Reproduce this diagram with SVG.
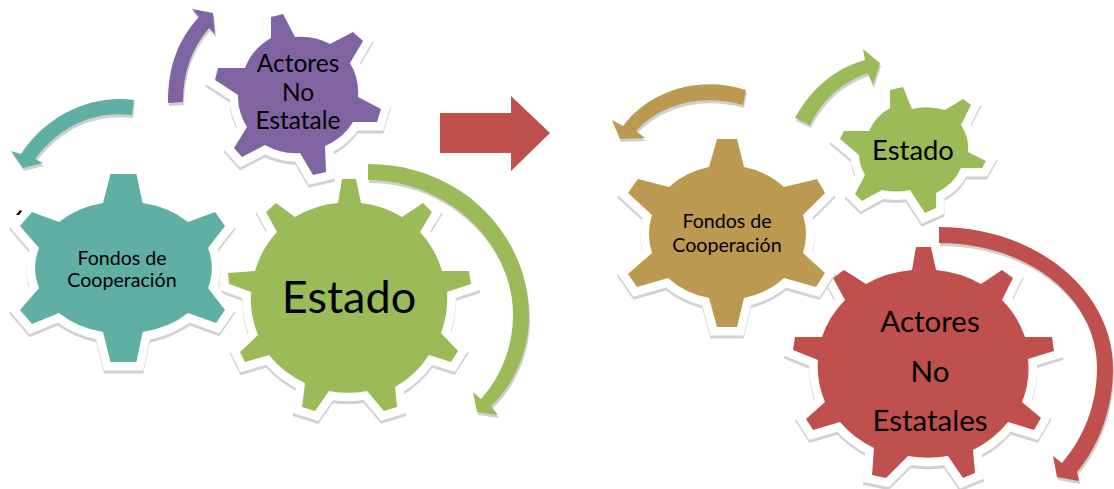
<svg xmlns="http://www.w3.org/2000/svg" xmlns:xlink="http://www.w3.org/1999/xlink" width="1114" height="489" viewBox="0 0 1114 489">
<style>
.sh{fill:#d2d2d2;stroke:#d2d2d2;stroke-width:17;stroke-linejoin:miter}
.ha{fill:#fff;stroke:#fff;stroke-width:17;stroke-linejoin:miter}
.as{fill:#cfcfcf}
text{font-family:Lato,"Liberation Sans",sans-serif;fill:#000;text-anchor:middle}
.teal{fill:#5FAFA5}.purple{fill:#8064A2}.green{fill:#9BBB59}.red{fill:#C0504D}.gold{fill:#BC9950}
</style>
<defs>
<path id="gTeal" d="M110.500,174L136.400,174L142.600,203A86,68 0 0 1 188,222L215,212L225,226L208,248A86,68 0 0 1 208,288L225,310L216,323L188,313A86,68 0 0 1 142.600,332L136.400,362L110.500,362L103,332A86,68 0 0 1 59,313L32,324L20,310L39,288A86,68 0 0 1 39,248L20,226L32,212L59,222A86,68 0 0 1 103,203Z"/>
<path id="gGreen" d="M342,179L356,179L361,203A98,97 0 0 1 402,217L423,203L432,212L420,232A98,97 0 0 1 442,271L469,271L471,284L447,292A98,97 0 0 1 441,333L458,351L451,362L429,355A98,97 0 0 1 395,387L397,407L384,411L367,391A98,97 0 0 1 329,391L315,411L302,407L305,383A98,97 0 0 1 269,355L245,362L240,352L258,335A98,97 0 0 1 251,292L229,284L228,273L255,271A98,97 0 0 1 277,232L266,212L276,203L295,217A98,97 0 0 1 338,203Z"/>
<path id="gPurple" d="M271,17L283,14L295,37A60,58 0 0 1 330,44L353,32L363,41L350,63A60,58 0 0 1 358,97L381,109L377,122L353,122A60,58 0 0 1 325,146L326,172L313,175L300,153A60,58 0 0 1 265,145L242,157L234,148L247,127A60,58 0 0 1 238,95L215,80L218,68L245,68A60,58 0 0 1 271,38Z"/>
<path id="gGold" d="M717,139L737,139L744,167A80,70 0 0 1 784,187L817,179L825,193L803,215A80,70 0 0 1 803,253L825,273L816,287L784,278A80,70 0 0 1 744,298L737,327L717,327L709,298A80,70 0 0 1 668,278L637,287L628,274L652,253A80,70 0 0 1 652,215L628,193L638,179L669,187A80,70 0 0 1 709,167Z"/>
<path id="gSmall" d="M890,90L903,87L912,109A55,46 0 0 1 945,110L963,99L971,105L961,125A55,46 0 0 1 968,152L986,161L982,168L961,168A55,46 0 0 1 936,193L936,208L925,213L910,190A55,46 0 0 1 882,190L862,201L855,194L865,175A55,46 0 0 1 859,155L840,139L844,131L869,131A55,46 0 0 1 890,108Z"/>
<path id="gRed" d="M916,247L931,247L936,270A105,96 0 0 1 981,284L1002,270L1013,278L1002,300A105,96 0 0 1 1025,337L1052,337L1054,351L1028,359A105,96 0 0 1 1022,402L1041,418L1034,430L1008,422A105,96 0 0 1 973,450L975,473L963,478L948,456A105,96 0 0 1 908,456L886,478L872,475L874,448A105,96 0 0 1 840,422L813,430L806,419L825,402A105,96 0 0 1 818,360L793,350L795,337L822,337A105,96 0 0 1 845,300L833,278L844,270L866,284A105,96 0 0 1 912,270Z"/>
<path id="aTeal" d="M134,100C90,94 46,116 21,154L11,151L23,168L43,163L35,159C58,128 92,110 132,115Z"/>
<path id="aPurple" d="M168,103C168,66 178,40 199,17L192,9L213,13L215,34L209,28C192,48 183,72 183,102Z"/>
<path id="aGreen" d="M368,164C462,164 529,235 529,317C529,353 512,387 491,406L498,415L477,412L473,392L481,399C500,378 513,348 513,315C513,243 448,180 368,180Z"/>
<path id="aGold" d="M746,90C700,75 650,90 623,126L612,120L620,139L645,138L636,131C660,105 700,93 743,105Z"/>
<path id="aSmall" d="M795,118C810,90 835,68 865,60L863,49L880,63L873,85L868,73C842,82 822,100 810,125Z"/>
<path id="aRed" d="M939,227C1035,227 1113,290 1113,368C1113,410 1098,447 1077,472L1079,481L1057,477L1053,456L1062,463C1084,437 1097,405 1097,367C1097,298 1028,243 939,243Z"/>
</defs>
<g id="node-estado-left">
<use href="#gGreen" class="sh" y="3"/><use href="#gGreen" class="ha"/><use href="#gGreen" class="green"/>
<text x="349" y="313" font-size="45">Estado</text>
</g>
<g id="node-fondos-left">
<use href="#gTeal" class="sh" y="3"/><use href="#gTeal" class="ha"/><use href="#gTeal" class="teal"/>
<text x="122" y="265" font-size="19.600">Fondos de</text>
<text x="122" y="287" font-size="19.600">Cooperación</text>
</g>
<g id="node-actores-left">
<use href="#gPurple" class="sh" y="3"/><use href="#gPurple" class="ha"/><use href="#gPurple" class="purple"/>
<text x="298" y="72" font-size="24.500">Actores</text>
<text x="298" y="101" font-size="24.500">No</text>
<text x="298" y="129" font-size="24.500">Estatale</text>
</g>
<g id="node-actores-right">
<use href="#gRed" class="sh" y="3"/><use href="#gRed" class="ha"/><use href="#gRed" class="red"/>
<text x="930" y="332" font-size="29.500">Actores</text>
<text x="930" y="382" font-size="29.500">No</text>
<text x="930" y="431" font-size="29.500">Estatales</text>
</g>
<g id="node-fondos-right">
<use href="#gGold" class="sh" y="3"/><use href="#gGold" class="ha"/><use href="#gGold" class="gold"/>
<text x="727" y="228" font-size="19.600">Fondos de</text>
<text x="727" y="252" font-size="19.600">Cooperación</text>
</g>
<g id="node-estado-right">
<use href="#gSmall" class="sh" y="3"/><use href="#gSmall" class="ha"/><use href="#gSmall" class="green"/>
<text x="913" y="160" font-size="27.400">Estado</text>
</g>
<g id="connectors">
<use href="#aTeal" class="as" x="1" y="3"/><use href="#aTeal" class="teal"/>
<use href="#aPurple" class="as" x="1" y="3"/><use href="#aPurple" class="purple"/>
<use href="#aGreen" class="as" x="1" y="3"/><use href="#aGreen" class="green"/>
<use href="#aGold" class="as" x="1" y="3"/><use href="#aGold" class="gold"/>
<use href="#aSmall" class="as" x="1" y="3"/><use href="#aSmall" class="green"/>
<use href="#aRed" class="as" x="1" y="3"/><use href="#aRed" class="red"/>
<polygon class="red" points="440,113 511,113 511,96 550,133 511,171 511,153 440,153"/>
</g>
<polygon points="16,215 20,210 22,211 19,215" fill="#000"/>
</svg>
